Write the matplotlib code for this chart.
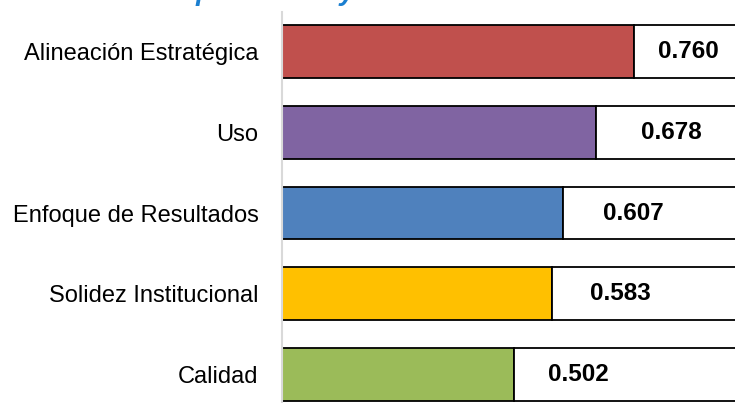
import numpy as np
import matplotlib.pyplot as plt

plt.rcParams['font.family'] = ['Liberation Sans', 'DejaVu Sans']

# datos
categorias = ['Alineación Estratégica', 'Uso', 'Enfoque de Resultados',
              'Solidez Institucional', 'Calidad']
valores = [0.760, 0.678, 0.607, 0.583, 0.502]
colores = ['#C0504D', '#8064A2', '#4F81BD', '#FFC000', '#9BBB59']
maximo = 1.0

# desplazamiento de las etiquetas respecto al final de la barra
desp_etiqueta = [0.117, 0.162, 0.151, 0.147, 0.138]

fig = plt.figure(figsize=(7.35, 4.03), dpi=100)
ax = fig.add_axes([282 / 735, 0, 1 - 282 / 735, 391 / 403])

y = np.arange(len(categorias))
restante = [maximo - v for v in valores]

ax.barh(y, valores, height=0.655, color=colores, edgecolor='black', linewidth=1.3)
ax.barh(y, restante, left=valores, height=0.655, color='white',
        edgecolor='black', linewidth=1.3)

for i, v in enumerate(valores):
    ax.text(v + desp_etiqueta[i], i, f'{v:.3f}', ha='center', va='center',
            fontsize=17.5, fontweight='bold')

ax.set_xlim(0, (735 - 282) / 463)
ax.set_ylim(4.353, -0.49)
ax.set_yticks(y)
ax.set_yticklabels(categorias, fontsize=17)
ax.tick_params(axis='y', length=0, pad=17)
ax.set_xticks([])

for s in ['top', 'right', 'bottom']:
    ax.spines[s].set_visible(False)
ax.spines['left'].set_color('#d9d9d9')
ax.spines['left'].set_linewidth(1.5)
ax.spines['left'].set_zorder(5)

# titulo, casi fuera de la figura
fig.text(503 / 735, 1.0, 'de productos y resultados', ha='right',
         va='baseline', fontsize=20, fontweight='bold', style='italic', color='#1a7fd0')

fig.savefig('out.png', dpi=100)
